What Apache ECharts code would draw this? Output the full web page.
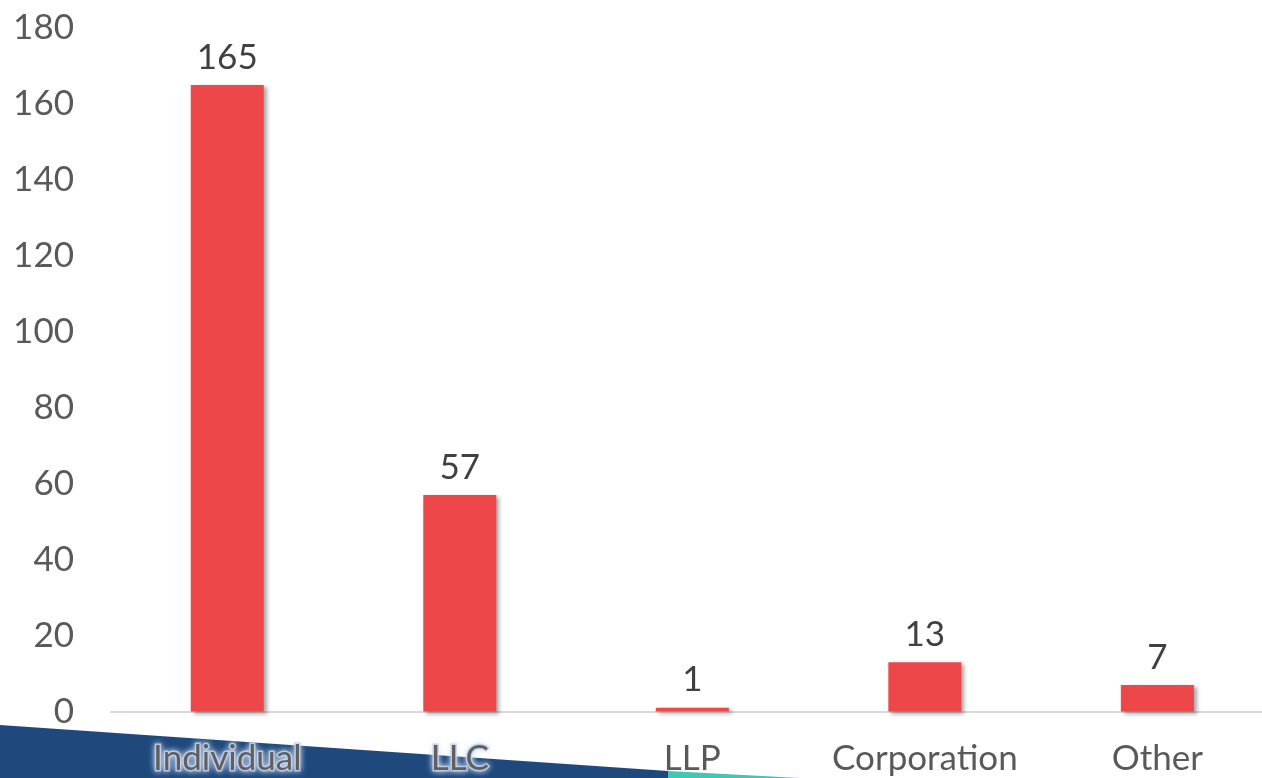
<!DOCTYPE html>
<html>
<head>
<meta charset="UTF-8">
<title>Entity types</title>
<script src="https://cdn.jsdelivr.net/npm/echarts@6/dist/echarts.min.js"></script>
<style>
  html, body { margin: 0; padding: 0; background: #fff; }
  #main { width: 1262px; height: 778px; }
</style>
</head>
<body>
<div id="main"></div>
<script>
var categories = ['Individual', 'LLC', 'LLP', 'Corporation', 'Other'];
var counts = [165, 57, 1, 13, 7];
var yTicks = { min: 0, max: 180, interval: 20 };

// the plot runs past the right edge of the page, so the x axis is numeric
// (one unit per category) and cut off at 4.45 instead of 4.5
var points = counts.map(function (v, i) { return [i, v]; });
var catIndex = categories.map(function (c, i) { return i; });

var myChart = echarts.init(document.getElementById('main'));

var option = {
    backgroundColor: '#fff',
    animation: false,
    graphic: [
        {
            type: 'polygon', z: -10, silent: true,
            shape: { points: [[0, 725], [668, 771], [668, 778], [0, 778]] },
            style: { fill: '#1f497d' }
        },
        {
            type: 'polygon', z: -10, silent: true,
            shape: { points: [[668, 771], [800, 778], [668, 778]] },
            style: { fill: '#3ec8b6' }
        }
    ],
    grid: { left: 111, top: 28, right: 0, bottom: 65, containLabel: false },
    xAxis: {
        type: 'value',
        min: -0.5, max: 4.45,
        axisLine: { show: true, onZero: false, lineStyle: { color: '#d9d9d9', width: 2 } },
        axisTick: { show: false },
        splitLine: { show: false },
        axisLabel: {
            customValues: catIndex,
            formatter: function (v) {
                // the first two sit on the dark band and get a pale halo
                return v < 2 ? '{g|' + categories[v] + '}' : categories[v];
            },
            color: '#595959', fontSize: 35, fontFamily: 'Lato', margin: 30,
            rich: {
                g: {
                    color: '#5f5f5f', fontSize: 35, fontFamily: 'Lato',
                    textBorderColor: 'rgba(190,205,230,0.85)', textBorderWidth: 3,
                    textShadowColor: 'rgba(220,230,250,0.9)', textShadowBlur: 6
                }
            }
        }
    },
    yAxis: {
        type: 'value',
        min: yTicks.min, max: yTicks.max, interval: yTicks.interval,
        axisLine: { show: false },
        axisTick: { show: false },
        splitLine: { show: false },
        axisLabel: { color: '#595959', fontSize: 35, fontFamily: 'Lato', margin: 37 }
    },
    series: [{
        type: 'bar',
        data: points,
        barWidth: 73,
        itemStyle: {
            color: '#ee474a',
            shadowColor: 'rgba(0,0,0,0.35)', shadowBlur: 4, shadowOffsetX: 3, shadowOffsetY: 2
        },
        label: {
            show: true, position: 'top', distance: 10,
            color: '#404040', fontSize: 35, fontFamily: 'Lato',
            formatter: function (p) { return p.value[1]; }
        }
    }]
};

myChart.setOption(option);
</script>
</body>
</html>
